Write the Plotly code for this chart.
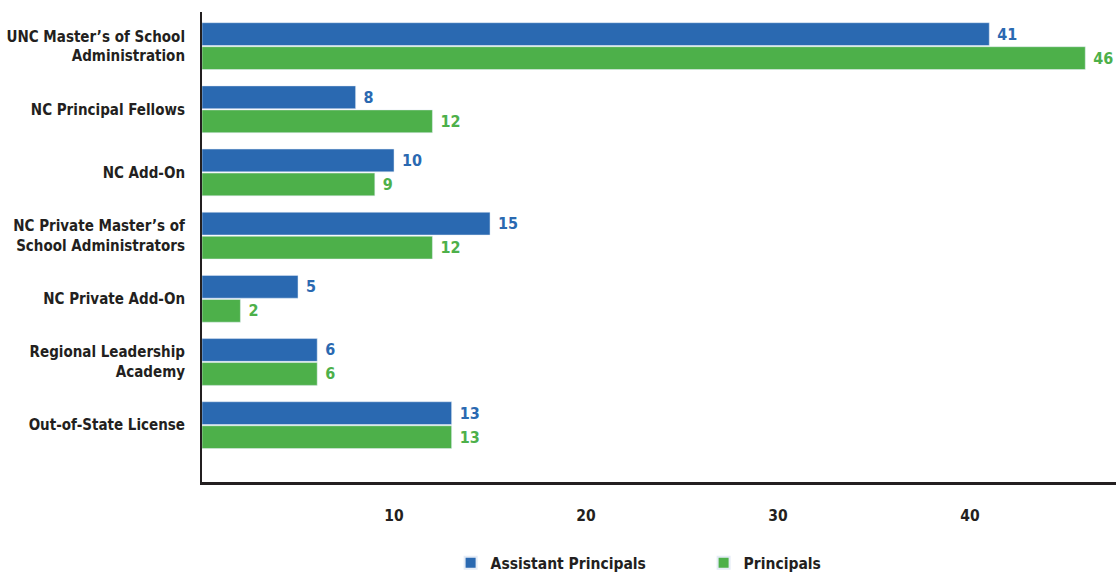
import plotly.graph_objects as go

categories = [
    "UNC Master’s of School<br>Administration",
    "NC Principal Fellows",
    "NC Add-On",
    "NC Private Master’s of<br>School Administrators",
    "NC Private Add-On",
    "Regional Leadership<br>Academy",
    "Out-of-State License",
]
assistant_principals = [41, 8, 10, 15, 5, 6, 13]
principals = [46, 12, 9, 12, 2, 6, 13]
x_ticks = [10, 20, 30, 40]

BLUE = "#2a69b1"
GREEN = "#4db04a"
DARK = "#231f20"
FONT = "DejaVu Sans Condensed, Roboto, sans-serif"
FS = 15

fig = go.Figure()
fig.add_trace(go.Bar(
    name="Assistant Principals", y=categories, x=assistant_principals, orientation="h",
    marker_color=BLUE, text=[f" {v}" for v in assistant_principals], textposition="outside",
    textfont=dict(color=BLUE, size=16, family=FONT, weight="bold"), cliponaxis=False,
))
fig.add_trace(go.Bar(
    name="Principals", y=categories, x=principals, orientation="h",
    marker_color=GREEN, text=[f" {v}" for v in principals], textposition="outside",
    textfont=dict(color=GREEN, size=16, family=FONT, weight="bold"), cliponaxis=False,
))

fig.update_layout(
    width=1118, height=574,
    margin=dict(l=202, r=2, t=12, b=92),
    plot_bgcolor="white", paper_bgcolor="white",
    barmode="group", bargap=0.24, bargroupgap=0.05,
    font=dict(family=FONT, size=FS, color=DARK, weight="bold"),
    showlegend=True,
    legend=dict(orientation="h", x=0.272, xanchor="left", yref="container", y=0.019, yanchor="middle",
                font=dict(size=15.5, family=FONT, color=DARK, weight="bold"),
                itemsizing="constant", traceorder="normal", entrywidth=208),
    xaxis=dict(range=[0, 47.6], tickvals=x_ticks, showgrid=False, zeroline=False,
               showline=True, linecolor="#231f20", linewidth=3, ticks="", automargin=False,
               ticklabelstandoff=17, tickfont=dict(size=15.5, family=FONT, color=DARK, weight="bold")),
    yaxis=dict(range=[6.9, -0.54], showgrid=False, zeroline=False, automargin=False,
               showline=True, linecolor="#231f20", linewidth=2, ticks="",
               ticklabelstandoff=12, tickfont=dict(size=FS, family=FONT, color=DARK, weight="bold")),
)

fig.write_html("out.html", config={"displayModeBar": False},
               post_script="document.body.style.margin='0';")
